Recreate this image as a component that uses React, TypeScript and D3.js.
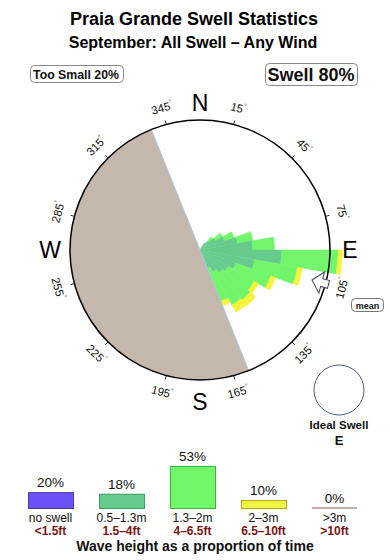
import React from "react";
import * as d3 from "d3";

// ---- data ----
const title = "Praia Grande Swell Statistics";
const subtitle = "September: All Swell \u2013 Any Wind";

// rose bins: start bearing (deg), 10 deg wide
const binStarts = [30, 40, 50, 60, 70, 80, 90, 100, 110, 120, 130, 140, 150];
// percent of time per bin for each height class
const small = [0.9, 1.3, 2.0, 2.9, 4.2, 5.8, 9.0, 6.1, 4.2, 3.6, 3.3, 2.8, 2.2]; // 0.5-1.3m
const medium = [0.0, 0.6, 0.9, 1.1, 1.7, 2.4, 6.2, 4.8, 4.1, 3.3, 3.9, 4.2, 3.9]; // 1.3-2m
const large = [0.0, 0.0, 0.0, 0.0, 0.0, 0.0, 0.45, 0.55, 0.55, 0.55, 0.8, 0.9, 0.55]; // 2-3m

const degreeLabels = [15, 45, 75, 105, 135, 165, 195, 225, 255, 285, 315, 345];
const compass = [
  { t: "N", a: 0 },
  { t: "E", a: 90 },
  { t: "S", a: 180 },
  { t: "W", a: 270 },
];

const landFrom = 158;
const landTo = 338;
const meanDir = 105;

const legendPct = [20, 18, 53, 10, 0];
const legendMetric = ["no swell", "0.5\u20131.3m", "1.3\u20132m", "2\u20133m", ">3m"];
const legendFeet = ["<1.5ft", "1.5\u20134ft", "4\u20136.5ft", "6.5\u201310ft", ">10ft"];
const legendFill = ["#6a52f6", "#66cc8e", "#70f86a", "#f2f542", "#c0b0a8"];
const legendStroke = ["#4a3ab0", "#3f9a60", "#40b040", "#a8a820", "#b0a098"];

const FONT = "Liberation Sans, Arial, Helvetica, sans-serif";

export default function App() {
  const W = 390,
    H = 560;
  const cx = 200,
    cy = 250,
    R = 130;
  const rScale = d3.scaleLinear().domain([0, 14.3]).range([0, R]);
  const arc = d3.arc<any>();
  const rad = (deg: number) => (deg * Math.PI) / 180;
  const pt = (deg: number, r: number) => [cx + r * Math.sin(rad(deg)), cy - r * Math.cos(rad(deg))];

  const wedges: any[] = [];
  binStarts.forEach((b, i) => {
    const s = small[i],
      m = medium[i],
      l = large[i];
    const segs = [
      { from: 0, to: s, c: "#66cb8c" },
      { from: s, to: s + m, c: "#72f56a" },
      { from: s + m, to: s + m + l, c: "#f4f43a" },
    ];
    segs.forEach((sg, j) => {
      if (sg.to - sg.from <= 0) return;
      wedges.push(
        <path
          key={`w${i}-${j}`}
          d={
            arc({
              innerRadius: rScale(sg.from),
              outerRadius: rScale(sg.to),
              startAngle: rad(b),
              endAngle: rad(b + 10),
            }) as string
          }
          fill={sg.c}
          stroke={sg.c}
          strokeWidth={0.4}
        />
      );
    });
  });

  const land = arc({
    innerRadius: 0,
    outerRadius: R,
    startAngle: rad(landFrom),
    endAngle: rad(landTo),
  }) as string;
  const [lx1, ly1] = pt(landFrom, R);
  const [lx2, ly2] = pt(landTo, R);

  // legend
  const lgBase = 508;
  const hScale = d3.scaleLinear().domain([0, 53]).range([0, 42]);
  const xBand = d3.scaleBand().domain(legendMetric).range([28, 357]).paddingInner(0.366).paddingOuter(0);

  return (
    <svg width={W} height={H} style={{ position: "absolute", left: 0, top: 0 }} fontFamily={FONT}>
      <rect width={W} height={H} fill="#fff" />
      <text x={194} y={24.5} textAnchor="middle" fontSize={18} fontWeight="bold" fill="#000">
        {title}
      </text>
      <text x={193} y={48} textAnchor="middle" fontSize={16} fontWeight="bold" fill="#000">
        {subtitle}
      </text>

      <rect x={30.5} y={65.5} width={93} height={17} rx={4} fill="#fff" stroke="#888" />
      <text x={76} y={78.5} textAnchor="middle" fontSize={12.3} fontWeight="bold" fill="#111">
        Too Small 20%
      </text>
      <rect x={265.5} y={63.5} width={92} height={22} rx={4} fill="#fff" stroke="#888" />
      <text x={311} y={81} textAnchor="middle" fontSize={18} fontWeight="bold" fill="#111">
        Swell 80%
      </text>

      {/* rose */}
      <g transform={`translate(${cx},${cy})`}>{wedges}</g>
      <path d={land} transform={`translate(${cx},${cy})`} fill="#c4b8ac" />
      <line x1={lx1} y1={ly1} x2={lx2} y2={ly2} stroke="#a9c9e8" strokeWidth={1} />
      <circle cx={cx} cy={cy} r={R} fill="none" stroke="#000" strokeWidth={1.5} />

      {degreeLabels.map((d) => {
        const [x1, y1] = pt(d, R);
        const [x2, y2] = pt(d, R + 4);
        const [tx, ty] = pt(d, 147);
        const rot = d <= 90 ? d : d < 270 ? d - 180 : d - 360;
        return (
          <g key={`dl${d}`}>
            <line x1={x1} y1={y1} x2={x2} y2={y2} stroke="#000" strokeWidth={0.8} />
            <text
              transform={`translate(${tx},${ty}) rotate(${rot})`}
              textAnchor="middle"
              dominantBaseline="central"
              fontSize={11.5}
              fill="#111"
            >
              {d}
              <tspan fontSize={6} dy={-4}>
                °
              </tspan>
            </text>
          </g>
        );
      })}

      {compass.map((c) => {
        const [tx, ty] = pt(c.a, c.a === 0 ? 147 : c.a === 180 ? 152 : 150);
        return (
          <text key={c.t} x={tx} y={ty} textAnchor="middle" dominantBaseline="central" fontSize={23} fill="#000">
            {c.t}
          </text>
        );
      })}

      {/* mean arrow */}
      <g transform={`translate(${cx},${cy}) rotate(${meanDir - 90})`}>
        <polygon
          points="116,0 126,-11 126,-4 133,-4 133,4 126,4 126,11"
          fill="#fff"
          stroke="#3a4a66"
          strokeWidth={1}
        />
      </g>
      <rect x={351.5} y={298.5} width={32} height={13} rx={4} fill="#fff" stroke="#777" />
      <text x={367.5} y={308.5} textAnchor="middle" fontSize={9} fontWeight="bold" fill="#111">
        mean
      </text>

      {/* ideal swell */}
      <circle cx={339} cy={390} r={25} fill="#fff" stroke="#4a5a80" strokeWidth={1} />
      <text x={339} y={429} textAnchor="middle" fontSize={11.5} fontWeight="bold" fill="#111">
        Ideal Swell
      </text>
      <text x={339} y={445} textAnchor="middle" fontSize={13} fontWeight="bold" fill="#111">
        E
      </text>

      {/* legend */}
      {legendMetric.map((m, i) => {
        const x = xBand(m) as number;
        const bw = xBand.bandwidth();
        const h = hScale(legendPct[i]);
        const cxl = x + bw / 2;
        return (
          <g key={`lg${i}`}>
            {h > 0 ? (
              <rect
                x={x + 0.5}
                y={lgBase - h + 0.5}
                width={bw}
                height={h}
                fill={legendFill[i]}
                stroke={legendStroke[i]}
                strokeWidth={1}
              />
            ) : (
              <line x1={x} x2={x + bw} y1={lgBase} y2={lgBase} stroke={legendFill[i]} strokeWidth={2} />
            )}
            <text x={cxl} y={lgBase - h - 5} textAnchor="middle" fontSize={13.5} fill="#111">
              {legendPct[i]}%
            </text>
            <text x={cxl} y={522} textAnchor="middle" fontSize={12} fill="#111">
              {m}
            </text>
            <text x={cxl} y={534.5} textAnchor="middle" fontSize={12} fontWeight="bold" fill="#7a1515">
              {legendFeet[i]}
            </text>
          </g>
        );
      })}
      <text x={195} y={550.5} textAnchor="middle" fontSize={14} fontWeight="bold" fill="#111">
        Wave height as a proportion of time
      </text>
    </svg>
  );
}
